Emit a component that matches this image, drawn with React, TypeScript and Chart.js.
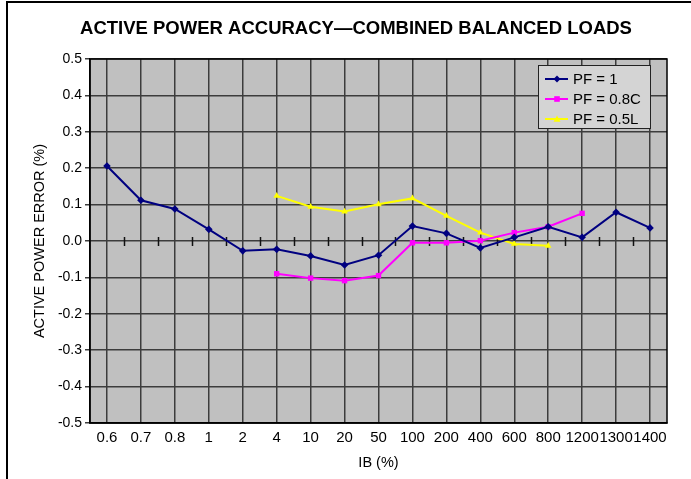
import React, { useEffect, useRef } from 'react';
import { Chart, registerables } from 'chart.js';

Chart.register(...registerables);

const chartTitle = 'ACTIVE POWER ACCURACY\u2014COMBINED BALANCED LOADS';
const xAxisTitle = 'IB (%)';
const yAxisTitle = 'ACTIVE POWER ERROR (%)';

const categories = ['0.6', '0.7', '0.8', '1', '2', '4', '10', '20', '50', '100', '200', '400', '600', '800', '1200', '1300', '1400'];

const pf1 = [0.206, 0.112, 0.088, 0.032, -0.027, -0.023, -0.041, -0.066, -0.039, 0.041, 0.021, -0.019, 0.010, 0.039, 0.010, 0.079, 0.036];
const pf08c = [null, null, null, null, null, -0.090, -0.102, -0.109, -0.095, -0.005, -0.005, 0.001, 0.023, 0.039, 0.076, null, null];
const pf05l = [null, null, null, null, null, 0.124, 0.094, 0.081, 0.101, 0.117, 0.069, 0.023, -0.008, -0.013, null, null, null];

const seriesLabels = ['PF = 1', 'PF = 0.8C', 'PF = 0.5L'];
const seriesColors = ['#000080', '#ff00ff', '#ffff00'];
const seriesShapes = ['rectRot', 'rect', 'triangle'];

const yTicks = [-0.5, -0.4, -0.3, -0.2, -0.1, 0, 0.1, 0.2, 0.3, 0.4, 0.5];

const FONT = '"Liberation Sans", Arial, Helvetica, sans-serif';

function drawShape(ctx: CanvasRenderingContext2D, shape: string, x: number, y: number, r: number, color: string) {
  ctx.save();
  ctx.fillStyle = color;
  ctx.beginPath();
  if (shape === 'rectRot') {
    ctx.moveTo(x, y - r);
    ctx.lineTo(x + r, y);
    ctx.lineTo(x, y + r);
    ctx.lineTo(x - r, y);
  } else if (shape === 'rect') {
    ctx.rect(x - r * 0.8, y - r * 0.8, r * 1.6, r * 1.6);
  } else {
    ctx.moveTo(x, y - r);
    ctx.lineTo(x + r, y + r * 0.8);
    ctx.lineTo(x - r, y + r * 0.8);
  }
  ctx.closePath();
  ctx.fill();
  ctx.restore();
}

const decorPlugin = {
  id: 'decor',
  beforeDraw(chart: any) {
    const { ctx, chartArea: a } = chart;
    ctx.save();
    ctx.fillStyle = '#c0c0c0';
    ctx.fillRect(a.left, a.top, a.right - a.left, a.bottom - a.top);
    ctx.restore();
  },
  beforeDatasetsDraw(chart: any) {
    const { ctx, chartArea: a } = chart;
    const xs = chart.scales.x;
    const ys = chart.scales.y;
    const y0 = ys.getPixelForValue(0);
    ctx.save();
    ctx.strokeStyle = '#111';
    ctx.lineWidth = 1.5;
    for (let i = 1; i < categories.length; i++) {
      const px = Math.round((xs.getPixelForValue(i - 1) + xs.getPixelForValue(i)) / 2) + 0.5;
      ctx.beginPath();
      ctx.moveTo(px, y0 - 4);
      ctx.lineTo(px, y0 + 5);
      ctx.stroke();
    }
    ctx.strokeStyle = '#000';
    ctx.lineWidth = 1.5;
    ctx.strokeRect(a.left, a.top, a.right - a.left, a.bottom - a.top);
    ctx.restore();
  },
  afterDraw(chart: any) {
    const { ctx } = chart;
    ctx.save();
    // title
    ctx.fillStyle = '#000';
    ctx.font = 'bold 18.5px ' + FONT;
    ctx.textAlign = 'center';
    ctx.textBaseline = 'middle';
    ctx.fillText(chartTitle, 356, 29);

    // legend
    const bx = 538, by = 65, bw = 112, bh = 63;
    ctx.fillStyle = '#d4d4d4';
    ctx.fillRect(bx, by, bw, bh);
    ctx.strokeStyle = '#222';
    ctx.lineWidth = 1;
    ctx.strokeRect(bx + 0.5, by + 0.5, bw, bh);
    ctx.font = '15px ' + FONT;
    ctx.textAlign = 'left';
    ctx.textBaseline = 'middle';
    chart.data.datasets.forEach((ds: any, i: number) => {
      const cy = by + 14 + i * 20;
      ctx.strokeStyle = ds.borderColor;
      ctx.lineWidth = 2;
      ctx.beginPath();
      ctx.moveTo(bx + 7, cy);
      ctx.lineTo(bx + 30, cy);
      ctx.stroke();
      drawShape(ctx, ds.pointStyle, bx + 19, cy, 3.5, ds.borderColor);
      ctx.fillStyle = '#000';
      ctx.fillText(ds.label, bx + 35, cy + 0.5);
    });
    ctx.restore();
  },
};

export default function App() {
  const ref = useRef<HTMLCanvasElement>(null);

  useEffect(() => {
    if (!ref.current) return;
    Chart.defaults.font.family = FONT;
    Chart.defaults.color = '#000';
    const seriesData = [pf1, pf08c, pf05l];
    const chart = new Chart(ref.current, {
      type: 'line',
      data: {
        labels: categories,
        datasets: seriesData.map((d, i) => ({
          label: seriesLabels[i],
          data: d,
          borderColor: seriesColors[i],
          backgroundColor: seriesColors[i],
          pointStyle: seriesShapes[i] as any,
          pointRadius: 3.8,
          pointBorderWidth: 0,
          borderWidth: 2,
          tension: 0,
          spanGaps: false,
        })),
      },
      options: {
        responsive: false,
        animation: false,
        devicePixelRatio: 1,
        layout: { padding: { top: 59, right: 24, left: 0, bottom: 0 } },
        plugins: {
          legend: { display: false },
          title: { display: false },
          tooltip: { enabled: false },
        },
        scales: {
          x: {
            type: 'category',
            offset: true,
            grid: { color: '#3c3c3c', lineWidth: 1.5, drawTicks: false, offset: false },
            border: { color: '#000', width: 1.5 },
            ticks: { font: { size: 15 }, color: '#000', padding: 6, maxRotation: 0, autoSkip: false },
            title: { display: true, text: xAxisTitle, font: { size: 14.5 }, color: '#000', padding: { top: 0, bottom: 7 } },
            afterFit: (s: any) => { s.height = 56; },
          },
          y: {
            min: -0.5,
            max: 0.5,
            afterBuildTicks: (s: any) => { s.ticks = yTicks.map((v) => ({ value: v })); },
            grid: { color: '#3c3c3c', lineWidth: 1.5, drawTicks: true, tickLength: 5 },
            border: { color: '#000', width: 1.5 },
            ticks: {
              font: { size: 14 },
              color: '#000',
              padding: 3,
              callback: (v: any) => {
                const n = Number(v);
                return (Math.abs(n) < 1e-9 ? 0 : n).toFixed(1);
              },
            },
            title: { display: true, text: yAxisTitle, font: { size: 14.5 }, color: '#000', padding: { top: 31, bottom: 0 } },
            afterFit: (s: any) => { s.width = 90; },
          },
        },
      },
      plugins: [decorPlugin],
    });
    return () => chart.destroy();
  }, []);

  return (
    <div style={{ position: 'fixed', left: 0, top: 0, width: 691, height: 479, background: '#fff' }}>
      <div style={{ position: 'absolute', left: 6, top: 1, width: 2, height: 478, background: '#000' }} />
      <div style={{ position: 'absolute', left: 6, top: 1, width: 685, height: 2, background: '#000' }} />
      <canvas ref={ref} width={691} height={479} style={{ position: 'absolute', left: 0, top: 0 }} />
    </div>
  );
}
